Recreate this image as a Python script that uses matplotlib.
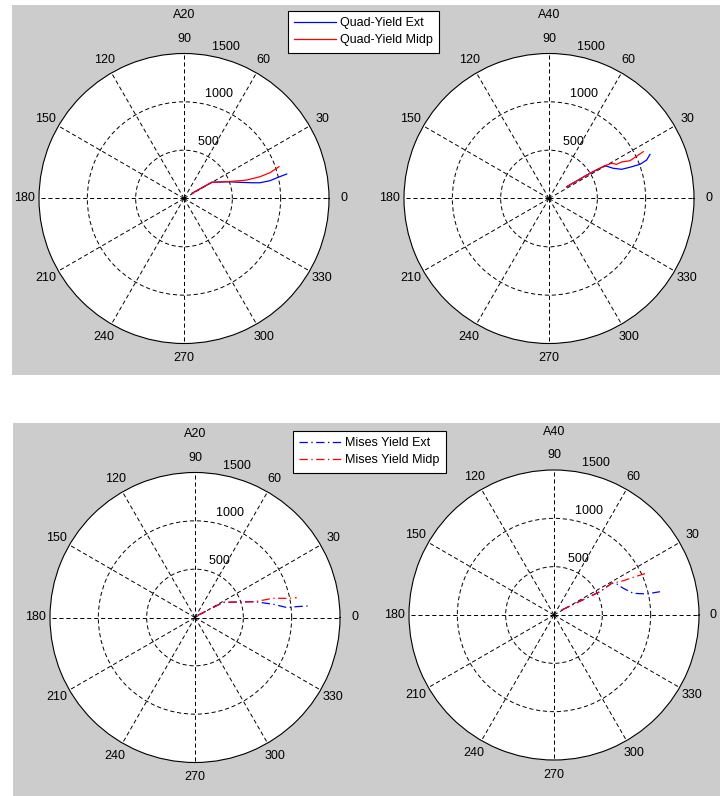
import matplotlib.pyplot as plt
import numpy as np
from matplotlib.patches import Rectangle

plt.rcParams['font.family'] = ['Liberation Sans', 'DejaVu Sans']
plt.rcParams['font.size'] = 9
plt.rcParams['lines.scale_dashes'] = False

# values: angle in degrees, radius in data units
quad_a20_ext_theta = [33, 30.3, 20.9, 16.1, 13.1, 11.7, 11.7, 12.7, 13.4]
quad_a20_ext_r = [100, 332, 487, 603, 719, 802, 908, 1000, 1092]
quad_a20_mid_theta = [33, 30.3, 20.9, 16.4, 16.0, 16.7, 18.5]
quad_a20_mid_r = [100, 332, 487, 676, 818, 929, 1036]

quad_a40_ext_theta = [33.7, 31.6, 30.4, 25.2, 21.9, 21.1, 20.6, 21.5, 23.6]
quad_a40_ext_r = [220, 498, 671, 734, 810, 898, 1006, 1086, 1140]
quad_a40_mid_theta = [33.7, 31.6, 30.4, 29.3, 26.8, 26.7, 25.0, 26.4]
quad_a40_mid_r = [220, 498, 671, 744, 784, 841, 925, 1089]

mises_a20_ext_theta = [37, 28.2, 14.8, 9.6, 6.1, 6.1, 5.8]
mises_a20_ext_r = [41, 332, 641, 821, 960, 1058, 1178]
mises_a20_mid_theta = [37, 28.2, 14.8, 13.8, 11.8, 11.0]
mises_a20_mid_r = [41, 332, 641, 834, 969, 1072]

mises_a40_ext_theta = [33, 26.9, 28.8, 26.3, 21.0, 15.3, 12.8, 12.4]
mises_a40_ext_r = [95, 534, 681, 724, 769, 850, 983, 1122]
mises_a40_mid_theta = [33, 26.9, 28.8, 26.3, 25.3, 24.2]
mises_a40_mid_r = [95, 534, 681, 800, 927, 1070]

angle_ticks = np.arange(0, 360, 30)
radius_ticks = [500, 1000, 1500]
r_max = 1500

W, H = 720, 796
fig = plt.figure(figsize=(7.2, 7.96), dpi=100, facecolor='white')

# grey matlab figure backgrounds
fig.patches.append(Rectangle((12 / W, 1 - 375 / H), 1, 370 / H, transform=fig.transFigure,
                             facecolor='#cccccc', edgecolor='none', zorder=-5))
fig.patches.append(Rectangle((13 / W, 0), 1, 1 - 423 / H, transform=fig.transFigure,
                             facecolor='#cccccc', edgecolor='none', zorder=-5))


def polar_panel(cx, cy, title):
    rad = 145
    ax = fig.add_axes([(cx - rad) / W, 1 - (cy + rad) / H, 2 * rad / W, 2 * rad / H],
                      projection='polar')
    ax.set_zorder(1)
    ax.set_ylim(0, r_max)
    ax.set_thetagrids(angle_ticks, [''] * len(angle_ticks))
    ax.set_rgrids([500, 1000], ['', ''])
    ax.tick_params(length=0)
    ax.grid(True, color='k', lw=0.7, linestyle=(0, (3, 2)))
    ax.spines['polar'].set_linewidth(0.8)
    ax.set_facecolor('white')
    for a in angle_ticks:
        ax.text(np.deg2rad(a), 1.1 * r_max, str(a), ha='center', va='center')
    for rr in radius_ticks:
        ax.text(np.deg2rad(82), rr + 25, '  ' + str(rr), ha='left', va='bottom')
    ax.text(np.pi / 2, 1.265 * r_max, title, ha='center', va='center')
    return ax


dashdot = (0, (6, 2.5, 1, 2.5))

ax1 = polar_panel(184, 198.5, 'A20')
ax1.plot(np.deg2rad(quad_a20_ext_theta), quad_a20_ext_r, color='b', lw=0.9, label='Quad-Yield Ext')
ax1.plot(np.deg2rad(quad_a20_mid_theta), quad_a20_mid_r, color='r', lw=0.9, label='Quad-Yield Midp')

ax2 = polar_panel(549, 198.5, 'A40')
ax2.plot(np.deg2rad(quad_a40_ext_theta), quad_a40_ext_r, color='b', lw=0.9)
ax2.plot(np.deg2rad(quad_a40_mid_theta), quad_a40_mid_r, color='r', lw=0.9)

ax3 = polar_panel(195, 617.5, 'A20')
ax3.plot(np.deg2rad(mises_a20_ext_theta), mises_a20_ext_r, color='b', lw=0.9, linestyle=dashdot,
         label='Mises Yield Ext')
ax3.plot(np.deg2rad(mises_a20_mid_theta), mises_a20_mid_r, color='r', lw=0.9, linestyle=dashdot,
         label='Mises Yield Midp')

ax4 = polar_panel(554, 615, 'A40')
ax4.plot(np.deg2rad(mises_a40_ext_theta), mises_a40_ext_r, color='b', lw=0.9, linestyle=dashdot)
ax4.plot(np.deg2rad(mises_a40_mid_theta), mises_a40_mid_r, color='r', lw=0.9, linestyle=dashdot)

for ax, x0, y0 in [(ax1, 288, 11), (ax3, 293, 431)]:
    h, l = ax.get_legend_handles_labels()
    leg = fig.legend(h, l, loc='upper left', bbox_to_anchor=(x0 / W, 1 - y0 / H),
                     frameon=True, fancybox=False, edgecolor='k', framealpha=1,
                     borderaxespad=0, handlelength=3.3, handletextpad=0.35,
                     borderpad=0.5, labelspacing=0.4)
    leg.get_frame().set_linewidth(0.8)
    leg.set_zorder(5)

plt.savefig('out.png', dpi=100, facecolor=fig.get_facecolor())
